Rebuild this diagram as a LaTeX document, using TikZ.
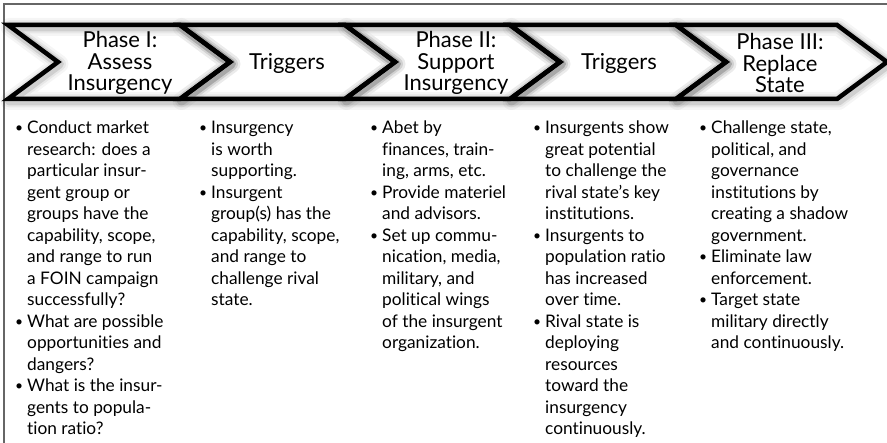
\documentclass[tikz,border=0pt]{standalone}
\usepackage{fontspec}
\setmainfont{Lato}[Ligatures=NoCommon]
\usetikzlibrary{positioning}

\newcommand{\bul}{\makebox[0pt][r]{\raisebox{1pt}{\scalebox{0.8}{\textbullet}}\hspace{4pt}}}

\begin{document}
\begin{tikzpicture}[
  x=1pt, y=-1pt,
  chev/.style={line width=4.5pt, line join=miter, miter limit=10},
  glow/.style={line join=round, draw=black},
  head/.style={align=center, font=\fontsize{22}{21.5}\selectfont, inner sep=0pt},
  list/.style={anchor=north west, align=left, font=\fontsize{17.3}{21.5}\selectfont, inner sep=0pt},
]
\useasboundingbox (0,0) rectangle (887,443);

% === frame ===
\draw[black!60, line width=1.6pt] (4,443) -- (4,4) -- (887,4);

% === chevrons ===
\foreach \a/\b in {8/180,180/345,345/510,510/676,676/837}{
  \foreach \w/\o in {18/0.04,13/0.06,9/0.1}
    \draw[glow, line width=\w pt, opacity=\o, shift={(1.5,2)}]
      (\a,25) -- (\b,25) -- (\b+50,62) -- (\b,99) -- (\a,99) -- (\a+50,62) -- cycle;
}
\foreach \a/\b in {8/180,180/345,345/510,510/676,676/837}
  \draw[chev] (\a,25) -- (\b,25) -- (\b+50,62) -- (\b,99) -- (\a,99) -- (\a+50,62) -- cycle;

% === headings ===
\node[head] (pI) at (120,63) {Phase I:\\Assess\\Insurgency};
\node[head] (tI) at (287,63) {Triggers};
\node[head] (pII) at (456,63) {Phase II:\\Support\\Insurgency};
\node[head] (tII) at (619,63) {Triggers};
\node[head] (pIII) at (780,63) {Phase III:\\Replace\\State};

% === lists ===
\node[list] (lpI) at (27,121) {\bul Conduct market\\research: does a\\particular insur-\\gent group or\\groups have the\\capability, scope,\\and range to run\\a FOIN campaign\\successfully?\\\bul What are possible\\opportunities and\\dangers?\\\bul What is the insur-\\gents to popula-\\tion ratio?};
\node[list] (ltI) at (211,121) {\bul Insurgency\\is worth\\supporting.\\\bul Insurgent\\group(s) has the\\capability, scope,\\and range to\\challenge rival\\state.};
\node[list] (lpII) at (382,121) {\bul Abet by\\finances, train-\\ing, arms, etc.\\\bul Provide materiel\\and advisors.\\\bul Set up commu-\\nication, media,\\military, and\\political wings\\of the insurgent\\organization.};
\node[list] (ltII) at (545,121) {\bul Insurgents show\\great potential\\to challenge the\\rival state’s key\\institutions.\\\bul Insurgents to\\population ratio\\has increased\\over time.\\\bul Rival state is\\deploying\\resources\\toward the\\insurgency\\continuously.};
\node[list] (lpIII) at (711,121) {\bul Challenge state,\\political, and\\governance\\institutions by\\creating a shadow\\government.\\\bul Eliminate law\\enforcement.\\\bul Target state\\military directly\\and continuously.};

\end{tikzpicture}
\end{document}
